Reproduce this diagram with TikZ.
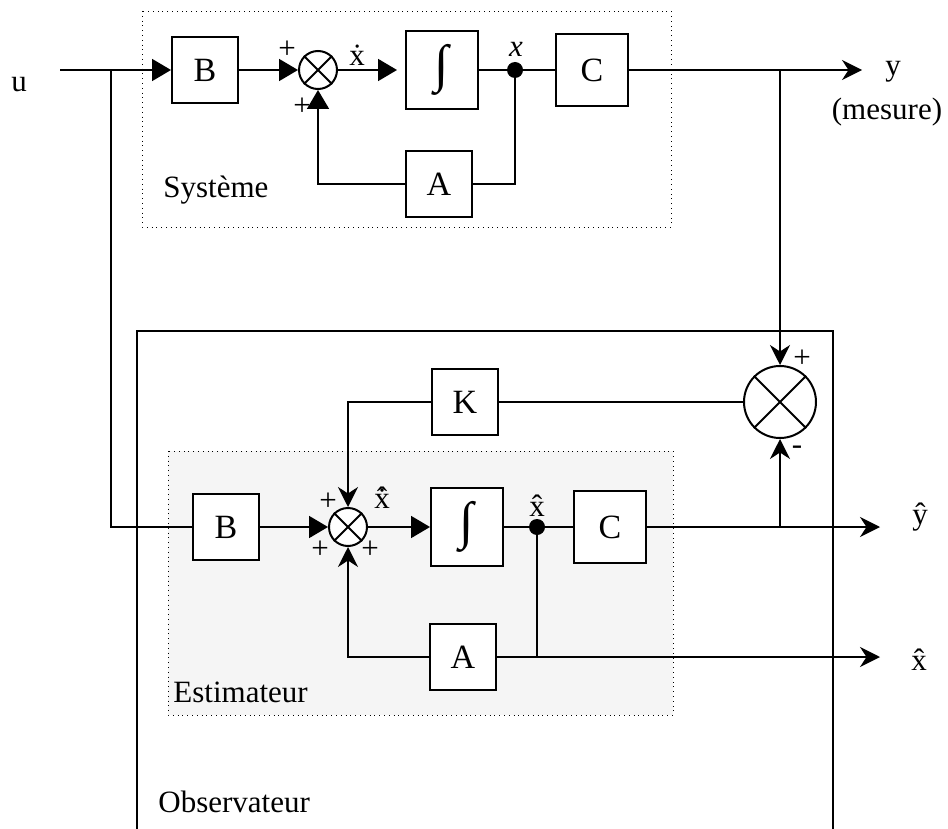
\documentclass[tikz,border=0pt]{standalone}
\usepackage{fontspec}
\setmainfont{Liberation Serif}
\usetikzlibrary{positioning, calc, arrows.meta}

\begin{document}
\begin{tikzpicture}[
    x=0.5pt, y=-0.5pt,
    font=\fontsize{15.5}{18}\selectfont,
    block/.style={rectangle, draw, line width=1pt, fill=white, inner sep=0pt,
                  minimum width=33pt, minimum height=33pt,
                  font=\fontsize{17}{20}\selectfont},
    intblock/.style={block, minimum width=36pt, minimum height=39pt,
                     font=\fontsize{26}{26}\selectfont},
    sumnode/.style={circle, draw, line width=1pt, fill=white,
                    minimum size=19pt, inner sep=0pt},
    tap/.style={circle, fill, minimum size=8pt, inner sep=0pt},
    wire/.style={line width=0.9pt},
    tri/.style={wire, -{Triangle[length=9.5pt, width=11pt]}},
    stl/.style={wire, -{Stealth[length=10pt, width=10pt]}},
    sign/.style={inner sep=0pt},
    title/.style={anchor=base west, inner sep=0pt},
  ]
    \useasboundingbox (0,0) rectangle (948,829);

    % frames
    \draw[dotted, fill=gray!8] (168,451) rectangle (673,715);
    \draw[dotted] (142,11) rectangle (671,227);
    \draw[line width=1.1pt] (137,829) -- (137,331) -- (833,331) -- (833,829);

    % systeme
    \node[block] (Bs) at (205,70) {B};
    \node[sumnode] (Ss) at (318,70) {};
    \node[intblock] (Is) at (442,70) {∫};
    \node[tap] (Ds) at (515,70) {};
    \node[block, minimum width=36pt, minimum height=36pt] (Cs) at (592,70) {C};
    \node[block] (As) at (439,184) {A};
    \coordinate (uin) at (60,70);
    \coordinate (us) at (111,70);
    \coordinate (ys) at (780,70);
    \coordinate (yout) at (862,70);

    % observateur
    \node[block] (K) at (465,402) {K};
    \node[sumnode, minimum size=36pt] (So) at (780,402) {};

    % estimateur
    \node[block] (Be) at (226,527) {B};
    \node[sumnode] (Se) at (348,527) {};
    \node[intblock] (Ie) at (467,527) {∫};
    \node[tap] (De) at (537,527) {};
    \node[block, minimum width=36pt, minimum height=36pt] (Ce) at (610,527) {C};
    \node[block] (Ae) at (463,657) {A};
    \coordinate (yb) at (780,527);
    \coordinate (yhout) at (880,527);
    \coordinate (xhout) at (880,657);

    \foreach \s in {Ss,Se,So}
      \draw[line width=1pt] (\s.north east) -- (\s.south west)
                            (\s.north west) -- (\s.south east);

    % liaisons systeme
    \draw[tri] (uin) -- (Bs);
    \draw[tri] (Bs) -- (Ss);
    \draw[tri, shorten >=4pt] (Ss) -- (Is);
    \draw[wire] (Is) -- (Cs);
    \draw[wire] (Ds) |- (As);
    \draw[tri] (As) -| (Ss);
    \draw[stl] (Cs) -- (yout);

    % liaisons observateur
    \draw[wire] (us) |- (Be);
    \draw[stl] (ys) -- (So);
    \draw[wire] (So) -- (K);
    \draw[stl] (K) -| (Se);
    \draw[stl] (yb) -- (So);

    % liaisons estimateur
    \draw[tri] (Be) -- (Se);
    \draw[tri] (Se) -- (Ie);
    \draw[wire] (Ie) -- (Ce);
    \draw[stl] (Ce) -- (yhout);
    \draw[wire] (De) -- (De |- Ae);
    \draw[stl] (Ae) -- (xhout);
    \draw[stl] (Ae) -| (Se);

    % signes
    \node[sign] (p1) at ($(Ss)+(-31,-20)$) {+};
    \node[sign] (p2) at ($(Ss)+(-16,37)$) {+};
    \node[sign] (p3) at ($(Se)+(-20,-25)$) {+};
    \node[sign] (p4) at ($(Se)+(-28,23)$) {+};
    \node[sign] (p5) at ($(Se)+(22,23)$) {+};
    \node[sign] (p6) at ($(So)+(22,-43)$) {+};
    \node[sign] (m1) at ($(So)+(17,48)$) {-};

    % textes
    \node (lu) at (19,85) {u};
    \node (ly) at (893,72) {y};
    \node (lmes) at (887,112) {(mesure)};
    \node (lxd) at (357,55) {\.{x}};
    \node (lx) at (516,49) {\textit{x}};
    \node[title] (lsys) at (163,198) {Système};
    \node (lxhd) at (382,498) {\.{\^{x}}};
    \node (lxh) at (537,506) {\^{x}};
    \node (lyh) at (920,517) {\^{y}};
    \node (lxho) at (919,660) {\^{x}};
    \node[title] (lest) at (173,702) {Estimateur};
    \node[title] (lobs) at (158,812) {Observateur};
  \end{tikzpicture}
\end{document}
